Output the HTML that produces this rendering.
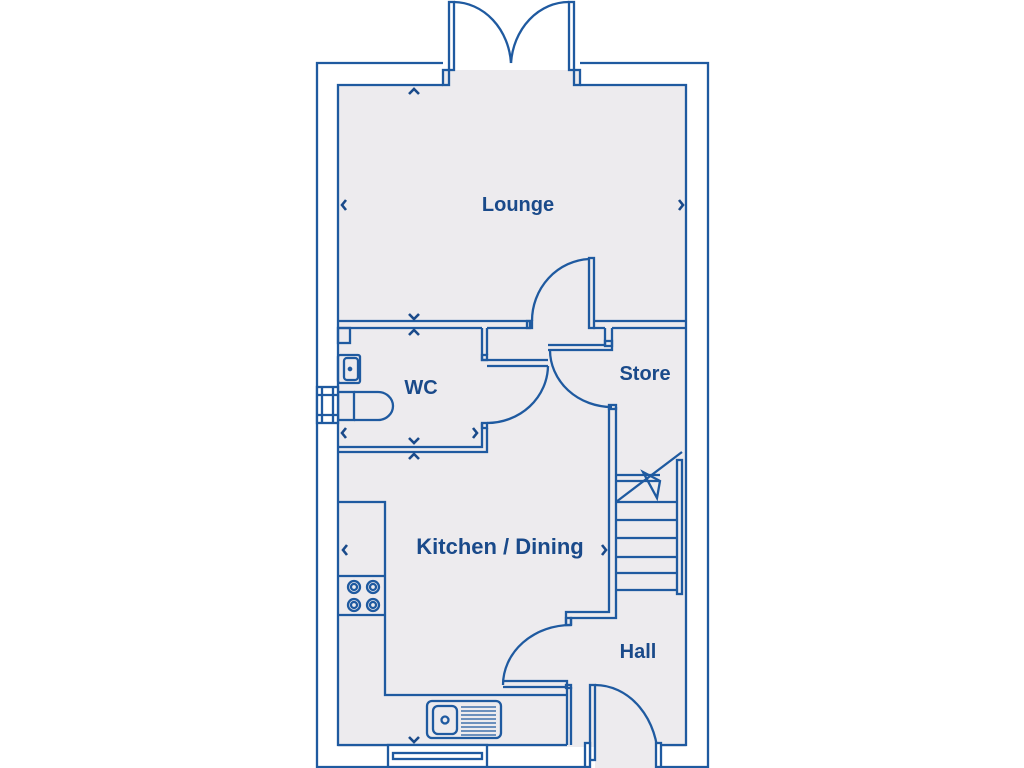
<!DOCTYPE html>
<html><head><meta charset="utf-8"><style>
html,body{margin:0;padding:0;background:#fff;}
svg{display:block}
text{font-family:"Liberation Sans",sans-serif;font-weight:bold;fill:#1a4a8a;font-size:20px;text-anchor:middle}
</style></head><body>
<svg width="1024" height="768" viewBox="0 0 1024 768" xmlns="http://www.w3.org/2000/svg">
<g fill="none" stroke="#1f5aa0" stroke-width="2.3">
<rect x="338" y="85" width="348" height="662" fill="#edebee" stroke="none"/>
<rect x="443" y="70" width="137" height="16" fill="#edebee" stroke="none"/>
<rect x="595" y="745" width="62" height="23" fill="#edebee" stroke="none"/>
<path d="M443 63 H317 V767 H590"/>
<path d="M443 85 H338 V745 H567"/>
<path d="M580 63 H708 V767 H658"/>
<path d="M580 85 H686 V745 H658"/>
<rect x="443" y="70" width="6" height="15"/>
<rect x="574" y="70" width="6" height="15"/>
<rect x="449" y="2" width="5" height="68"/>
<rect x="569" y="2" width="5" height="68"/>
<path d="M454 2 A58 66 0 0 1 511 63"/>
<path d="M569 2 A58 66 0 0 0 511 63"/>
<path d="M338 321 H530 V328 H487 M338 328 H482"/>
<rect x="527" y="321" width="5" height="7"/>
<path d="M593 321 H686 M593 328 H605 M612 328 H686"/>
<rect x="589" y="258" width="5" height="70"/>
<path d="M532 321 A60 62 0 0 1 589 259"/>
<path d="M482 328 V360 H548 M487 328 V355 M487 360 H548 M487 366 H548"/>
<rect x="482" y="355" width="5" height="5"/>
<path d="M338 447 H482 V423 M338 452 H487 V428"/>
<rect x="482" y="423" width="5" height="5"/>
<path d="M487 423 A61 58 0 0 0 548 366"/>
<rect x="338" y="328" width="12" height="15"/>
<rect x="338" y="355" width="22" height="28" rx="2"/>
<rect x="344" y="358" width="14" height="22" rx="3"/>
<circle cx="350" cy="369" r="1.2"/>
<rect x="338" y="392" width="16" height="28"/>
<path d="M354 392 H378 A15 14 0 0 1 378 420 H354"/>
<rect x="317" y="387" width="21" height="36" fill="#fff"/>
<path d="M322 387 V423 M333 387 V423 M317 395 H338 M317 415 H338"/>
<path d="M548 345 H605 V328 M548 350 H612 V328"/>
<rect x="605" y="341" width="7" height="5"/>
<path d="M550 350 A62 57 0 0 0 612 407"/>
<path d="M609 407 V612 H566 V625 M616 407 V618 H571 V625"/>
<rect x="609" y="405" width="7" height="4"/>
<rect x="566" y="618" width="5" height="7"/>
<path d="M616 475 H660 M616 481 H660 M616 502 H677 M616 520 H677 M616 538 H677 M616 557 H677 M616 573 H677 M616 590 H677"/>
<rect x="677" y="460" width="5" height="134"/>
<path d="M616 502 L682 452 M643 472 L660 481 L657 498 Z"/>
<path d="M571 625 A68 60 0 0 0 503 685"/>
<path d="M503 681 H567 V745 M503 687 H565 M571 687 V745"/>
<rect x="566" y="685" width="5" height="3"/>
<rect x="590" y="685" width="5" height="75"/>
<path d="M595 685 A63 75 0 0 1 658 760"/>
<rect x="585" y="743" width="5" height="24" fill="#fff"/>
<rect x="656" y="743" width="5" height="24" fill="#fff"/>
<path d="M338 502 H385 V695 H567 M338 576 H385 M338 615 H385"/>
<circle cx="354" cy="587" r="6"/><circle cx="354" cy="587" r="3"/>
<circle cx="373" cy="587" r="6"/><circle cx="373" cy="587" r="3"/>
<circle cx="354" cy="605" r="6"/><circle cx="354" cy="605" r="3"/>
<circle cx="373" cy="605" r="6"/><circle cx="373" cy="605" r="3"/>
<rect x="427" y="701" width="74" height="37" rx="5"/>
<rect x="433" y="706" width="24" height="28" rx="5"/>
<circle cx="445" cy="720" r="3.5"/>
<path d="M461 707 H496 M461 711 H496 M461 715 H496 M461 719 H496 M461 723 H496 M461 727 H496 M461 731 H496 M461 735 H496" stroke-width="1.3"/>
<rect x="388" y="745" width="99" height="22" fill="#fff"/>
<rect x="393" y="753" width="89" height="6"/>
</g>
<g fill="none" stroke="#1a4a8a" stroke-width="2.6">
<path d="M409 94 L414 89 L419 94"/>
<path d="M346 200 L342 205 L346 210"/>
<path d="M679 200 L683 205 L679 210"/>
<path d="M409 314 L414 319 L419 314"/>
<path d="M409 335 L414 330 L419 335"/>
<path d="M346 428 L342 433 L346 438"/>
<path d="M473 428 L477 433 L473 438"/>
<path d="M409 438 L414 443 L419 438"/>
<path d="M409 459 L414 454 L419 459"/>
<path d="M347 545 L343 550 L347 555"/>
<path d="M602 545 L606 550 L602 555"/>
<path d="M409 737 L414 742 L419 737"/>
</g>
<text x="518" y="211">Lounge</text>
<text x="421" y="394">WC</text>
<text x="645" y="380">Store</text>
<text x="500" y="554" style="font-size:22px">Kitchen / Dining</text>
<text x="638" y="658">Hall</text>
</svg>
</body></html>
